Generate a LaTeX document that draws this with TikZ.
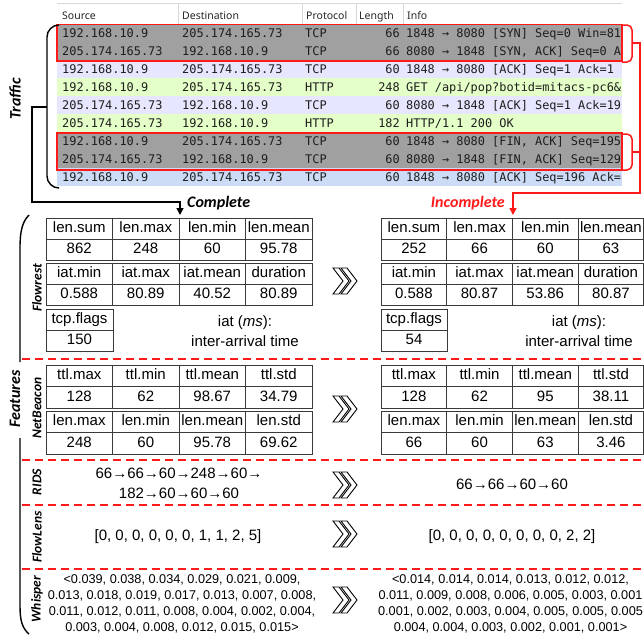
\documentclass[tikz,border=0pt]{standalone}
\usepackage{fontspec}
\setmainfont{Liberation Sans}
\newfontfamily\monof{DejaVu Sans Mono}
\newfontfamily\hdrf{Noto Sans}
\newfontfamily\labf{Carlito}
\usetikzlibrary{arrows.meta}
\definecolor{rowgray}{HTML}{A0A0A0}
\definecolor{rowlav}{HTML}{E7E6FF}
\definecolor{rowgrn}{HTML}{E4FFC7}
\definecolor{rowblu}{HTML}{CCDCF6}
\definecolor{tblline}{HTML}{3A3A3A}
\definecolor{txtdark}{HTML}{1E1E1E}
\definecolor{myred}{HTML}{FF1A1A}
\definecolor{hdrgray}{HTML}{D8D8D8}
\tikzset{
  mono/.style={font=\monof\fontsize{11.9}{14}\selectfont, text=txtdark, inner sep=0pt},
  hdr/.style={font=\hdrf\fontsize{10.5}{12}\selectfont, anchor=base west, inner sep=0pt, text=black!85},
  hdrline/.style={draw=hdrgray, line width=0.8pt},
  redbox/.style={draw=myred, line width=1.6pt},
  redline/.style={draw=myred, line width=1.5pt},
  blkline/.style={draw=black, line width=1.4pt},
  reddash/.style={draw=myred, line width=1.5pt, dash pattern=on 8pt off 5pt},
  cell/.style={draw=tblline, line width=0.9pt, font=\fontsize{15}{18}\selectfont, text height=11pt, text depth=3pt, inner sep=0pt},
  plain/.style={font=\fontsize{15}{20}\selectfont, align=center, inner sep=0pt},
  small/.style={font=\fontsize{12.7}{16}\selectfont, align=center, inner sep=0pt},
  biglab/.style={font=\labf\bfseries\itshape\fontsize{16}{18}\selectfont, inner sep=1pt},
  seclab/.style={font=\labf\bfseries\itshape\fontsize{13.5}{16}\selectfont, rotate=90, inner sep=0pt},
  tip/.style={-{Triangle[length=7pt,width=7pt]}},
  chev/.style={draw=black, fill=white, line width=0.9pt, line join=miter},
  chevs/.pic={
    \draw[chev] (-12,-13) -- (-6,-13) -- (4,0) -- (-6,13) -- (-12,13) -- (-2,0) -- cycle;
    \draw[chev] (-4,-13) -- (2,-13) -- (12,0) -- (2,13) -- (-4,13) -- (6,0) -- cycle;
  }
}
\newcommand\trow[7]{%
  \fill[#7] (57,{6+18*#1}) rectangle (622,{24+18*#1});
  \node[mono,anchor=base west] (src#1) at (62,{19+18*#1}) {#2};
  \node[mono,anchor=base west] (dst#1) at (182,{19+18*#1}) {#3};
  \node[mono,anchor=base west] (pro#1) at (305,{19+18*#1}) {#4};
  \node[mono,anchor=base east] (len#1) at (400,{19+18*#1}) {#5};
  \node[mono,anchor=base west] (inf#1) at (406,{19+18*#1}) {#6};
}
% #1 name, #2 x0, #3 y centre, #4 cell width, #5 cell height, #6 list
\newcommand\frow[6]{%
  \foreach \t [count=\i] in {#6} {%
    \node[cell, minimum width=#4pt, minimum height=#5pt] (#1\i) at ({#2+(\i-0.5)*#4},#3) {\t};
  }
}
\begin{document}
\begin{tikzpicture}[x=1pt,y=-1pt]
\useasboundingbox (0,0) rectangle (644,638);
\fill[white] (0,0) rectangle (644,638);

% ---------- traffic table ----------
\draw[hdrline] (57,3.5) -- (622,3.5);
\foreach \xx in {178,302,356,403} {\draw[hdrline] (\xx,3.5) -- (\xx,24);}
\node[hdr] (hsrc) at (62,19) {Source};
\node[hdr] (hdst) at (182,19) {Destination};
\node[hdr] (hpro) at (306,19) {Protocol};
\node[hdr] (hlen) at (359,19) {Length};
\node[hdr] (hinf) at (407,19) {Info};

\trow{1}{192.168.10.9}{205.174.165.73}{TCP}{66}{1848 → 8080 [SYN] Seq=0 Win=81}{rowgray}
\trow{2}{205.174.165.73}{192.168.10.9}{TCP}{66}{8080 → 1848 [SYN, ACK] Seq=0 A}{rowgray}
\trow{3}{192.168.10.9}{205.174.165.73}{TCP}{60}{1848 → 8080 [ACK] Seq=1 Ack=1}{rowlav}
\trow{4}{192.168.10.9}{205.174.165.73}{HTTP}{248}{GET /api/pop?botid=mitacs-pc6\&}{rowgrn}
\trow{5}{205.174.165.73}{192.168.10.9}{TCP}{60}{8080 → 1848 [ACK] Seq=1 Ack=19}{rowlav}
\trow{6}{205.174.165.73}{192.168.10.9}{HTTP}{182}{HTTP/1.1 200 OK}{rowgrn}
\trow{7}{192.168.10.9}{205.174.165.73}{TCP}{60}{1848 → 8080 [FIN, ACK] Seq=195}{rowgray}
\trow{8}{205.174.165.73}{192.168.10.9}{TCP}{60}{8080 → 1848 [FIN, ACK] Seq=129}{rowgray}
\trow{9}{192.168.10.9}{205.174.165.73}{TCP}{60}{1848 → 8080 [ACK] Seq=196 Ack=}{rowblu}

\draw[redbox] (57,24.5) rectangle (622,61);
\draw[redbox] (57,133) rectangle (622,170);

% black brace and "Complete" arrow
\draw[blkline, rounded corners=12pt] (58,25) -- (47,25) -- (47,188) -- (58,188);
\coordinate (bmid) at (47,107);
\coordinate (cpl) at (180,215);
\draw[blkline, tip] (bmid) -- (32,107) |- (180,202) -- (cpl);
\node[biglab, anchor=west] (complete) at (186,203) {Complete};

% red brackets and "Incomplete" arrow
\draw[redline, rounded corners=5pt] (622,25) -- (632,25) -- (632,62) -- (622,62);
\draw[redline, rounded corners=5pt] (622,134) -- (632,134) -- (632,170) -- (622,170);
\coordinate (rmid1) at (632,43);
\coordinate (rmid2) at (632,152);
\coordinate (inc) at (513,215);
\draw[redline] (rmid2) -- (640,152);
\draw[redline, tip] (rmid1) -- (640,43) |- (513,193) -- (inc);
\node[biglab, text=myred, anchor=east] (incomplete) at (506,203) {Incomplete};

\node[biglab, rotate=90] (traffic) at (15,99) {Traffic};

% ---------- features ----------
\draw[blkline] (29,215) .. controls (22,222) and (20,232) .. (20,248) -- (20,362);
\draw[blkline] (20,438) -- (20,606) .. controls (20,620) and (22,628) .. (29,634);
\node[biglab, rotate=90] (features) at (15,399) {Features};

\node[seclab] (lflowrest) at (37,288) {Flowrest};
\node[seclab] (lnetbeacon) at (37,408) {NetBeacon};
\node[seclab] (lrids) at (37,482) {RIDS};
\node[seclab] (lflowlens) at (37,537) {FlowLens};
\node[seclab] (lwhisper) at (37,599) {Whisper};

\draw[reddash] (22,359) -- (644,359);
\draw[reddash] (22,460) -- (644,460);
\draw[reddash] (22,505) -- (644,505);
\draw[reddash] (22,569) -- (644,569);

% Flowrest (complete)
\frow{LA}{46}{228.5}{66.5}{21}{len.sum,len.max,len.min,len.mean}
\frow{LB}{46}{249.5}{66.5}{21}{862,248,60,95.78}
\frow{LC}{46}{273.5}{66.5}{21}{iat.min,iat.max,iat.mean,duration}
\frow{LD}{46}{294.5}{66.5}{21}{0.588,80.89,40.52,80.89}
\node[cell, minimum width=67pt, minimum height=21pt] (LE) at (79.5,319.5) {tcp.flags};
\node[cell, minimum width=67pt, minimum height=21pt] (LF) at (79.5,340.5) {150};
\node[plain] (Liat) at (245,331) {iat (\textit{ms}):\\inter-arrival time};

% Flowrest (incomplete)
\frow{RA}{381}{228.5}{65.7}{21}{len.sum,len.max,len.min,len.mean}
\frow{RB}{381}{249.5}{65.7}{21}{252,66,60,63}
\frow{RC}{381}{273.5}{65.7}{21}{iat.min,iat.max,iat.mean,duration}
\frow{RD}{381}{294.5}{65.7}{21}{0.588,80.87,53.86,80.87}
\node[cell, minimum width=66pt, minimum height=21pt] (RE) at (414,319.5) {tcp.flags};
\node[cell, minimum width=66pt, minimum height=21pt] (RF) at (414,340.5) {54};
\node[plain] (Riat) at (579,331) {iat (\textit{ms}):\\inter-arrival time};

% NetBeacon
\frow{LG}{46}{375.75}{66.5}{21.5}{ttl.max,ttl.min,ttl.mean,ttl.std}
\frow{LH}{46}{397.25}{66.5}{21.5}{128,62,98.67,34.79}
\frow{LI}{46}{421.75}{66.5}{21.5}{len.max,len.min,len.mean,len.std}
\frow{LJ}{46}{443.25}{66.5}{21.5}{248,60,95.78,69.62}
\frow{RG}{381}{375.75}{65.7}{21.5}{ttl.max,ttl.min,ttl.mean,ttl.std}
\frow{RH}{381}{397.25}{65.7}{21.5}{128,62,95,38.11}
\frow{RI}{381}{421.75}{65.7}{21.5}{len.max,len.min,len.mean,len.std}
\frow{RJ}{381}{443.25}{65.7}{21.5}{66,60,63,3.46}

% RIDS
\node[plain] (Lrids) at (179,483) {66→66→60→248→60→\\182→60→60→60};
\node[plain] (Rrids) at (512,484) {66→66→60→60};

% FlowLens
\node[plain] (Lflowlens) at (178,537) {[0, 0, 0, 0, 0, 0, 1, 1, 2, 5]};
\node[plain] (Rflowlens) at (512,537) {[0, 0, 0, 0, 0, 0, 0, 0, 2, 2]};

% Whisper
\node[small] (Lwhisper) at (182,603.5) {<0.039, 0.038, 0.034, 0.029, 0.021, 0.009,\\0.013, 0.018, 0.019, 0.017, 0.013, 0.007, 0.008,\\0.011, 0.012, 0.011, 0.008, 0.004, 0.002, 0.004,\\0.003, 0.004, 0.008, 0.012, 0.015, 0.015>};
\node[small] (Rwhisper) at (510.5,603.5) {<0.014, 0.014, 0.014, 0.013, 0.012, 0.012,\\0.011, 0.009, 0.008, 0.006, 0.005, 0.003, 0.001\\0.001, 0.002, 0.003, 0.004, 0.005, 0.005, 0.005\\0.004, 0.004, 0.003, 0.002, 0.001, 0.001>};

% chevrons
\pic (c1) at (345,281) {chevs};
\pic (c2) at (345,409) {chevs};
\pic (c3) at (345,485) {chevs};
\pic (c4) at (345,534) {chevs};
\pic (c5) at (345,600) {chevs};
\end{tikzpicture}
\end{document}
